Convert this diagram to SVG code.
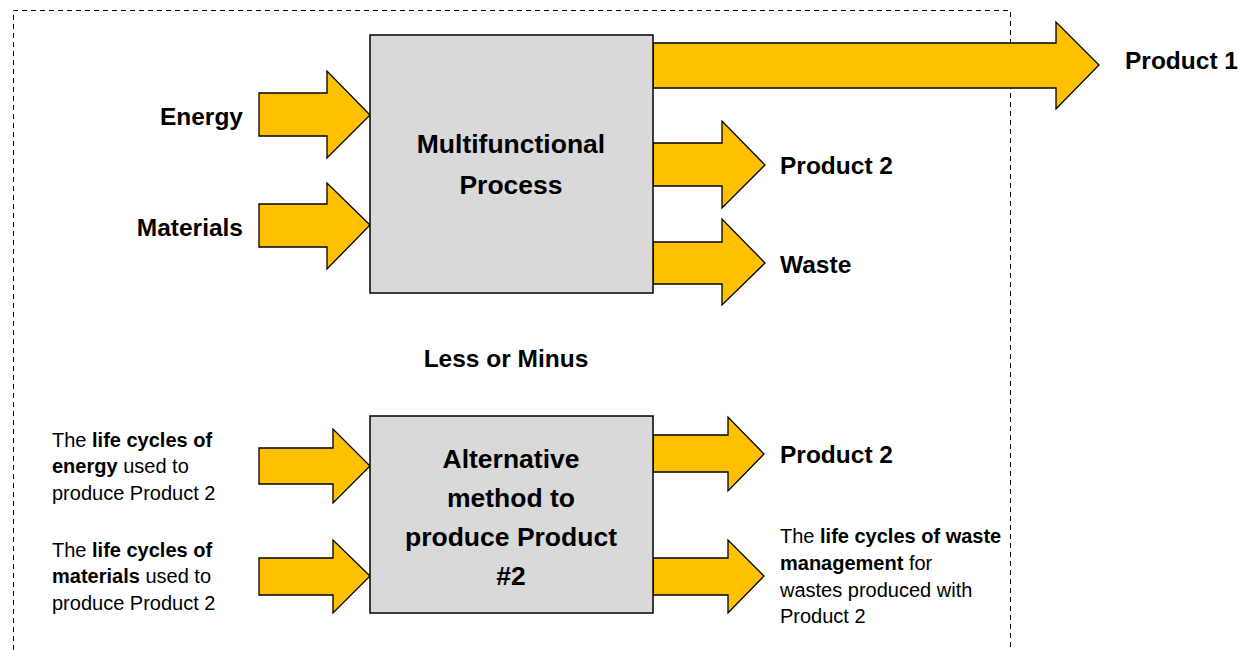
<svg xmlns="http://www.w3.org/2000/svg" width="1248" height="650" viewBox="0 0 1248 650">
<style>
.arr{fill:#FFC000;stroke:#000;stroke-width:1.3;stroke-linejoin:miter}
.box{fill:#D9D9D9;stroke:#000;stroke-width:1.5}
.t{font-family:"Liberation Sans",Arial,sans-serif;fill:#000}
.b{font-weight:bold}
.big{font-size:26.5px;font-weight:bold}
.lab{font-size:24.5px;font-weight:bold}
.sm{font-size:20px}
</style>
<rect width="1248" height="650" fill="#fff"/>
<path d="M13.5,650 V10.5 H1010.5 V650" fill="none" stroke="#000" stroke-width="1" stroke-dasharray="5,4"/>
<g id="connectors">
<polygon class="arr" points="259,93 327,93 327,71 370,115 327,158 327,136 259,136"/>
<polygon class="arr" points="259,204 327,204 327,183 370,225 327,269 327,247 259,247"/>
<polygon class="arr" points="653,43 1056,43 1056,22 1099,65 1056,109 1056,88 653,88"/>
<polygon class="arr" points="653,143 722,143 722,121 765,165 722,208 722,186 653,186"/>
<polygon class="arr" points="653,242 722,242 722,219 765,263 722,305 722,284 653,284"/>
<polygon class="arr" points="259,448 333,448 333,429 370,466 333,503 333,484 259,484"/>
<polygon class="arr" points="259,558 333,558 333,540 370,576 333,613 333,595 259,595"/>
<polygon class="arr" points="653,435 728,435 728,417 764,454 728,491 728,472 653,472"/>
<polygon class="arr" points="653,558 728,558 728,540 764,576 728,613 728,595 653,595"/>
</g>
<g id="multifunctional">
<rect class="box" x="370" y="35" width="283" height="258"/>
<text class="t big" text-anchor="middle" x="511" y="153">Multifunctional</text>
<text class="t big" text-anchor="middle" x="511" y="194">Process</text>
</g>
<g id="alternative">
<rect class="box" x="370" y="416" width="283" height="197"/>
<text class="t big" text-anchor="middle" x="511" y="468">Alternative</text>
<text class="t big" text-anchor="middle" x="511" y="507">method to</text>
<text class="t big" text-anchor="middle" x="511" y="546">produce Product</text>
<text class="t big" text-anchor="middle" x="511" y="585">#2</text>
</g>
<g id="energy"><text class="t lab" text-anchor="end" x="243" y="125">Energy</text></g>
<g id="materials"><text class="t lab" text-anchor="end" x="243" y="236">Materials</text></g>
<g id="product1"><text class="t lab" x="1125" y="69">Product 1</text></g>
<g id="product2"><text class="t lab" x="780" y="174">Product 2</text></g>
<g id="waste"><text class="t lab" x="780" y="273">Waste</text></g>
<g id="less"><text class="t lab" text-anchor="middle" x="506" y="367">Less or Minus</text></g>
<g id="product2b"><text class="t lab" x="780" y="463">Product 2</text></g>
<g id="lc-energy">
<text class="t sm" x="52" y="447">The <tspan class="b">life cycles of</tspan></text>
<text class="t sm" x="52" y="473"><tspan class="b">energy</tspan> used to</text>
<text class="t sm" x="52" y="500">produce Product 2</text>
</g>
<g id="lc-materials">
<text class="t sm" x="52" y="557">The <tspan class="b">life cycles of</tspan></text>
<text class="t sm" x="52" y="583"><tspan class="b">materials</tspan> used to</text>
<text class="t sm" x="52" y="610">produce Product 2</text>
</g>
<g id="lc-waste">
<text class="t sm" x="780" y="543">The <tspan class="b">life cycles of waste</tspan></text>
<text class="t sm" x="780" y="570"><tspan class="b">management</tspan> for</text>
<text class="t sm" x="780" y="597">wastes produced with</text>
<text class="t sm" x="780" y="623">Product 2</text>
</g>
</svg>
